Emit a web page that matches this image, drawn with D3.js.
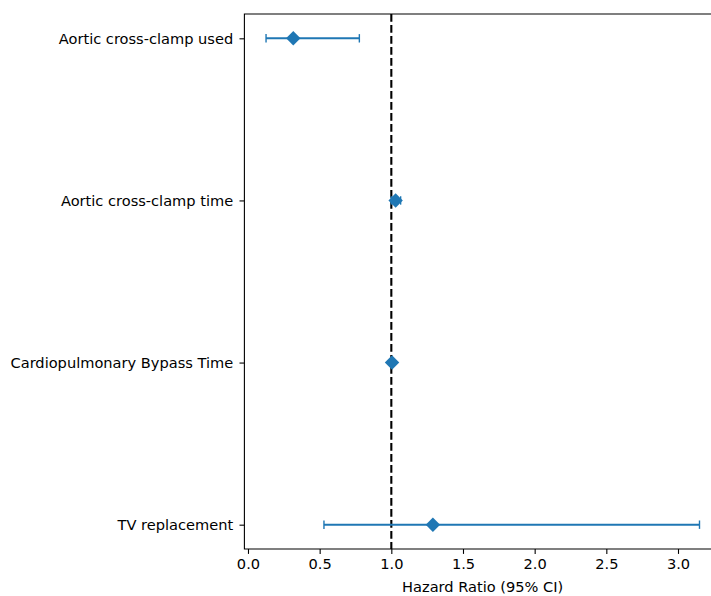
<!DOCTYPE html>
<html>
<head>
<meta charset="utf-8">
<script src="https://cdn.jsdelivr.net/npm/d3@7"></script>
<style>
  body { margin: 0; background: #fff; }
  svg { display: block; font-family: "DejaVu Sans", sans-serif; }
</style>
</head>
<body>
<svg id="chart" width="711" height="596"></svg>
<script>
// forest plot data, top row first
const labels = ["Aortic cross-clamp used", "Aortic cross-clamp time", "Cardiopulmonary Bypass Time", "TV replacement"];
const hazardRatio = [0.316, 1.03, 1.005, 1.29];
const ciLower = [0.126, 1.00, 0.995, 0.53];
const ciUpper = [0.777, 1.065, 1.015, 3.15];
const xTicks = [0, 0.5, 1, 1.5, 2, 2.5, 3];

const margin = { top: 14, left: 244.4, bottom: 47 };
const plotRight = 721;
const W = 711, H = 596;
const svg = d3.select("#chart");
const blue = "#1f77b4";
const fontSize = 14.6;

const x = d3.scaleLinear().domain([-0.025, 3.3]).range([margin.left, plotRight]);
// index 0 at top; matplotlib style 5% margins
const y = d3.scaleLinear().domain([-0.15, 3.15]).range([margin.top, H - margin.bottom]);

const plotBottom = H - margin.bottom;

// x axis
const xAxis = d3.axisBottom(x).tickValues(xTicks).tickFormat(d3.format(".1f")).tickSize(4.9).tickPadding(4.5);
svg.append("g")
  .attr("transform", `translate(0,${plotBottom})`)
  .call(xAxis)
  .call(g => g.select(".domain").remove())
  .call(g => g.selectAll("text").attr("font-size", fontSize).attr("fill", "#000").attr("font-family", "DejaVu Sans"))
  .call(g => g.selectAll("line").attr("stroke", "#000").attr("stroke-width", 1.1));

// y axis
const yAxis = d3.axisLeft(y).tickValues(d3.range(labels.length)).tickFormat(i => labels[i]).tickSize(4.9).tickPadding(6.3);
svg.append("g")
  .attr("transform", `translate(${margin.left},0)`)
  .call(yAxis)
  .call(g => g.select(".domain").remove())
  .call(g => g.selectAll("text").attr("font-size", fontSize).attr("fill", "#000").attr("font-family", "DejaVu Sans"))
  .call(g => g.selectAll("line").attr("stroke", "#000").attr("stroke-width", 1.1));

// reference line at HR = 1
svg.append("line")
  .attr("x1", x(1)).attr("x2", x(1))
  .attr("y1", margin.top).attr("y2", plotBottom)
  .attr("stroke", "#000").attr("stroke-width", 2.1)
  .attr("stroke-dasharray", "7.7,3.3");

// error bars
const rows = svg.append("g").selectAll("g")
  .data(labels.map((l, i) => ({ i, hr: hazardRatio[i], lo: ciLower[i], hi: ciUpper[i] })))
  .join("g");

rows.append("line")
  .attr("x1", d => x(d.lo)).attr("x2", d => x(d.hi))
  .attr("y1", d => y(d.i)).attr("y2", d => y(d.i))
  .attr("stroke", blue).attr("stroke-width", 2.1);

rows.selectAll("line.cap")
  .data(d => [{ v: d.lo, i: d.i }, { v: d.hi, i: d.i }])
  .join("line")
  .attr("class", "cap")
  .attr("x1", d => x(d.v)).attr("x2", d => x(d.v))
  .attr("y1", d => y(d.i) - 4.2).attr("y2", d => y(d.i) + 4.2)
  .attr("stroke", blue).attr("stroke-width", 1.4);

const r = 7.2;
rows.append("path")
  .attr("d", d => {
    const cx = x(d.hr), cy = y(d.i);
    return `M${cx},${cy - r}L${cx + r},${cy}L${cx},${cy + r}L${cx - r},${cy}Z`;
  })
  .attr("fill", blue);

// spines
svg.append("path")
  .attr("d", `M${margin.left},${plotBottom}V${margin.top}H${plotRight}V${plotBottom}Z`)
  .attr("fill", "none").attr("stroke", "#000").attr("stroke-width", 1.1);

// x label
svg.append("text")
  .attr("x", (margin.left + plotRight) / 2)
  .attr("y", 592)
  .attr("text-anchor", "middle")
  .attr("font-size", fontSize)
  .text("Hazard Ratio (95% CI)");
</script>
</body>
</html>
